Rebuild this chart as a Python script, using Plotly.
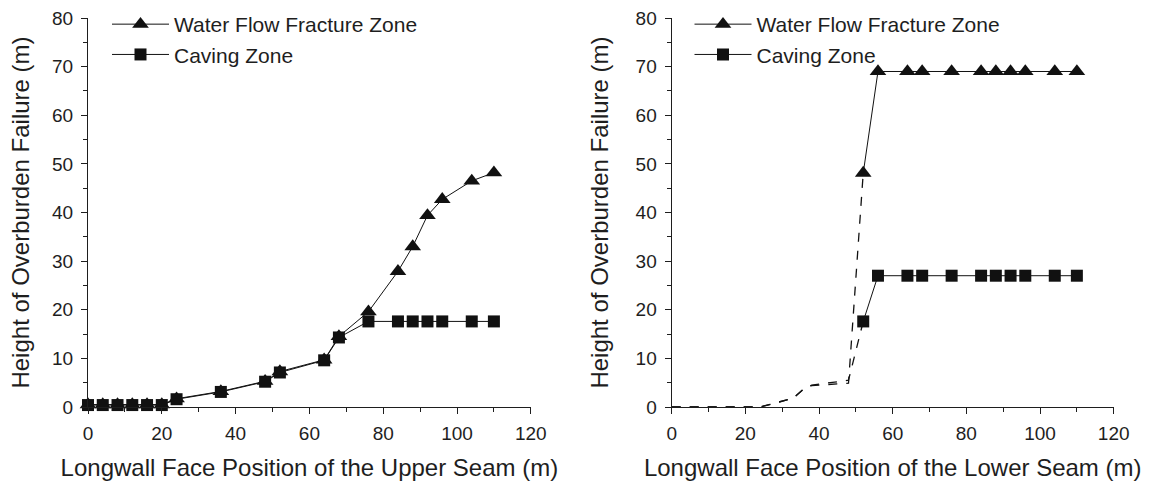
import plotly.graph_objects as go

# ---------------- data ----------------
# Left: upper seam
upper_x = [0, 4, 8, 12, 16, 20, 24, 36, 48, 52, 64, 68, 76, 84, 88, 92, 96, 104, 110]
upper_wffz = [0.5, 0.5, 0.5, 0.5, 0.5, 0.5, 1.7, 3.2, 5.3, 7.3, 9.7, 14.5, 19.6, 27.9, 33.0, 39.4, 42.7, 46.5, 48.2]
upper_cave = [0.4, 0.4, 0.4, 0.4, 0.4, 0.4, 1.6, 3.1, 5.2, 7.1, 9.6, 14.3, 17.6, 17.6, 17.6, 17.6, 17.6, 17.6, 17.6]

# Right: lower seam (dashed lead-in without markers, then measured points)
lower_lead_x = [0, 24, 33, 36, 38, 48, 52]
lower_lead_wffz = [0, 0, 1.8, 3.8, 4.4, 4.9, 48.1]
lower_lead_cave = [0, 0, 1.8, 3.8, 4.5, 5.5, 17.6]
lower_x = [52, 56, 64, 68, 76, 84, 88, 92, 96, 104, 110]
lower_wffz = [48.1, 69, 69, 69, 69, 69, 69, 69, 69, 69, 69]
lower_cave = [17.6, 27, 27, 27, 27, 27, 27, 27, 27, 27, 27]

x_title_left = "Longwall Face Position of the Upper Seam (m)"
x_title_right = "Longwall Face Position of the Lower Seam (m)"
y_title = "Height of Overburden Failure (m)"
name_wffz = "Water Flow Fracture Zone"
name_cave = "Caving Zone"

# ---------------- figure ----------------
FONT = "Liberation Sans, Arial, Helvetica, sans-serif"
INK = "#1e1e1e"
LINE = "#111111"

fig = go.Figure()

tri = dict(symbol="triangle-up", size=14.5, color=LINE, line=dict(width=0))
sq = dict(symbol="square", size=12, color=LINE, line=dict(width=0))

# left subplot
fig.add_trace(go.Scatter(x=upper_x, y=upper_wffz, mode="lines+markers", name=name_wffz,
                         line=dict(color=LINE, width=1), marker=tri, cliponaxis=False,
                         xaxis="x", yaxis="y", legend="legend"))
fig.add_trace(go.Scatter(x=upper_x, y=upper_cave, mode="lines+markers", name=name_cave,
                         line=dict(color=LINE, width=1), marker=sq, cliponaxis=False,
                         xaxis="x", yaxis="y", legend="legend"))

# right subplot
fig.add_trace(go.Scatter(x=lower_lead_x, y=lower_lead_wffz, mode="lines", showlegend=False,
                         line=dict(color=LINE, width=1.3, dash="dash"),
                         xaxis="x2", yaxis="y2"))
fig.add_trace(go.Scatter(x=lower_lead_x, y=lower_lead_cave, mode="lines", showlegend=False,
                         line=dict(color=LINE, width=1.3, dash="dash"),
                         xaxis="x2", yaxis="y2"))
fig.add_trace(go.Scatter(x=lower_x, y=lower_wffz, mode="lines+markers", name=name_wffz,
                         line=dict(color=LINE, width=1), marker=tri, cliponaxis=False,
                         xaxis="x2", yaxis="y2", legend="legend2"))
fig.add_trace(go.Scatter(x=lower_x, y=lower_cave, mode="lines+markers", name=name_cave,
                         line=dict(color=LINE, width=1), marker=sq, cliponaxis=False,
                         xaxis="x2", yaxis="y2", legend="legend2"))

L, R, T, B = 88, 37, 18, 79
W, H = 1151, 486
pw = W - L - R
ph = H - T - B


def px2dom(a, b):
    return [(a - L) / pw, (b - L) / pw]


common_x = dict(range=[0, 120], dtick=20, tick0=0, showgrid=False, zeroline=False,
                showline=True, linecolor=INK, linewidth=1.3, mirror=False,
                ticks="outside", ticklen=6, tickwidth=1.2, tickcolor=INK,
                tickfont=dict(family=FONT, size=19, color=INK), ticklabelstandoff=3,
                minor=dict(dtick=10, ticks="outside", ticklen=4, tickwidth=1.2, tickcolor=INK, showgrid=False),
                fixedrange=True, automargin=False)
common_y = dict(range=[0, 80], dtick=10, tick0=0, showgrid=False, zeroline=False,
                showline=True, linecolor=INK, linewidth=1.3, mirror=False,
                ticks="outside", ticklen=6, tickwidth=1.2, tickcolor=INK,
                tickfont=dict(family=FONT, size=19, color=INK), ticklabelstandoff=4,
                minor=dict(dtick=5, ticks="outside", ticklen=4, tickwidth=1.2, tickcolor=INK, showgrid=False),
                fixedrange=True, automargin=False)

title_font = dict(family=FONT, size=24, color=INK)

fig.update_layout(
    width=W, height=H,
    margin=dict(l=L, r=R, t=T, b=B, pad=0, autoexpand=False),
    paper_bgcolor="white", plot_bgcolor="white",
    xaxis=dict(common_x, domain=px2dom(88, 530.8), anchor="y",
               title=dict(text=x_title_left, font=title_font, standoff=16)),
    yaxis=dict(common_y, domain=[0, 1], anchor="x",
               title=dict(text=y_title, font=title_font, standoff=15)),
    xaxis2=dict(common_x, domain=px2dom(671.7, 1113.7), anchor="y2",
                title=dict(text=x_title_right, font=title_font, standoff=16)),
    yaxis2=dict(common_y, domain=[0, 1], anchor="x2",
                title=dict(text=y_title, font=title_font, standoff=20)),
    legend=dict(x=(107 - L) / pw, xanchor="left", y=1 + 14 / ph, yanchor="top",
                bgcolor="rgba(0,0,0,0)", borderwidth=0, itemwidth=57,
                font=dict(family=FONT, size=21, color=INK), tracegroupgap=0,
                itemclick=False, itemdoubleclick=False),
    legend2=dict(x=(689.5 - L) / pw, xanchor="left", y=1 + 14 / ph, yanchor="top",
                 bgcolor="rgba(0,0,0,0)", borderwidth=0, itemwidth=57,
                 font=dict(family=FONT, size=21, color=INK), tracegroupgap=0,
                 itemclick=False, itemdoubleclick=False),
    showlegend=True,
)

fig.write_html("out.html",
               config={"displayModeBar": False, "staticPlot": False},
               post_script="document.body.style.margin='0';document.body.style.padding='0';"
                           "document.documentElement.style.overflow='hidden';")
